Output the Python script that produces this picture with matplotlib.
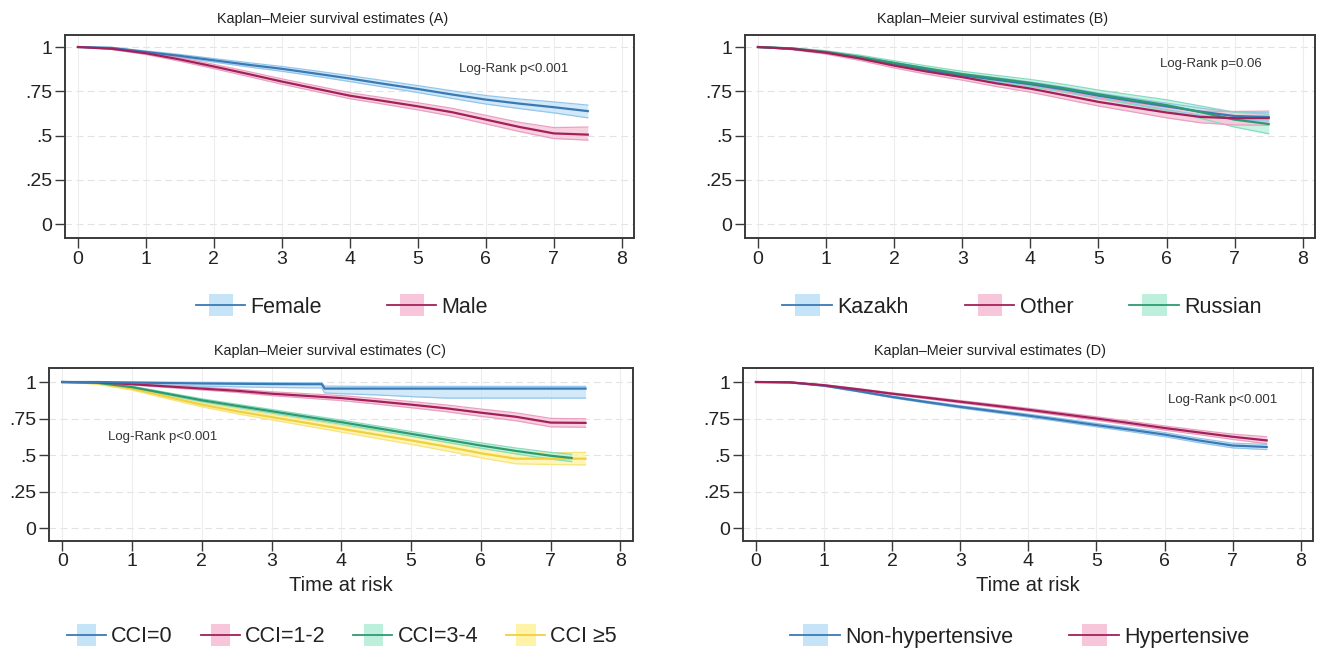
import matplotlib
matplotlib.use("Agg")
import matplotlib.pyplot as plt
from matplotlib.legend_handler import HandlerBase
from matplotlib.patches import Patch, Rectangle
from matplotlib.lines import Line2D

plt.rcParams['font.family'] = ['Liberation Sans', 'DejaVu Sans']

# ---------------- data ----------------
t = [0, 0.5, 1, 1.5, 2, 2.5, 3, 3.5, 4, 4.5, 5, 5.5, 6, 6.5, 7, 7.5]

# Panel A: sex
female    = [1.0, 0.995, 0.972, 0.950, 0.925, 0.900, 0.877, 0.850, 0.822, 0.792, 0.763, 0.732, 0.703, 0.680, 0.660, 0.638]
female_lo = [1.0, 0.992, 0.966, 0.942, 0.915, 0.888, 0.863, 0.835, 0.805, 0.774, 0.743, 0.710, 0.678, 0.652, 0.628, 0.600]
female_hi = [1.0, 0.998, 0.978, 0.958, 0.935, 0.912, 0.890, 0.865, 0.838, 0.810, 0.782, 0.753, 0.726, 0.706, 0.690, 0.672]
male      = [1.0, 0.990, 0.965, 0.930, 0.890, 0.848, 0.805, 0.765, 0.725, 0.695, 0.665, 0.632, 0.590, 0.548, 0.512, 0.505]
male_lo   = [1.0, 0.986, 0.958, 0.920, 0.878, 0.834, 0.790, 0.749, 0.708, 0.677, 0.645, 0.610, 0.566, 0.522, 0.483, 0.474]
male_hi   = [1.0, 0.994, 0.972, 0.940, 0.902, 0.862, 0.820, 0.781, 0.742, 0.713, 0.685, 0.654, 0.614, 0.574, 0.545, 0.548]

# Panel B: ethnicity
kazakh    = [1.0, 0.990, 0.970, 0.940, 0.905, 0.870, 0.840, 0.815, 0.790, 0.760, 0.725, 0.695, 0.665, 0.635, 0.610, 0.605]
kazakh_lo = [1.0, 0.987, 0.964, 0.932, 0.896, 0.860, 0.829, 0.803, 0.777, 0.746, 0.710, 0.679, 0.647, 0.615, 0.588, 0.582]
kazakh_hi = [1.0, 0.993, 0.976, 0.948, 0.914, 0.880, 0.851, 0.827, 0.803, 0.774, 0.740, 0.711, 0.683, 0.655, 0.632, 0.628]
other     = [1.0, 0.990, 0.968, 0.935, 0.895, 0.860, 0.830, 0.795, 0.765, 0.728, 0.690, 0.660, 0.630, 0.605, 0.598, 0.598]
other_lo  = [1.0, 0.985, 0.960, 0.924, 0.882, 0.845, 0.813, 0.777, 0.745, 0.706, 0.667, 0.634, 0.600, 0.572, 0.560, 0.558]
other_hi  = [1.0, 0.995, 0.976, 0.946, 0.908, 0.875, 0.847, 0.813, 0.785, 0.750, 0.713, 0.686, 0.660, 0.638, 0.636, 0.638]
russian   = [1.0, 0.992, 0.972, 0.944, 0.910, 0.878, 0.847, 0.822, 0.797, 0.767, 0.733, 0.702, 0.672, 0.632, 0.590, 0.565]
russian_lo= [1.0, 0.988, 0.965, 0.934, 0.898, 0.864, 0.831, 0.804, 0.777, 0.745, 0.709, 0.675, 0.642, 0.597, 0.548, 0.510]
russian_hi= [1.0, 0.996, 0.979, 0.954, 0.922, 0.892, 0.863, 0.840, 0.817, 0.789, 0.757, 0.729, 0.702, 0.667, 0.632, 0.620]

# Panel C: Charlson comorbidity index
t_cci0  = [0, 0.5, 1, 1.5, 2, 2.5, 3, 3.5, 3.72, 3.76, 4, 4.5, 5, 5.5, 6, 6.5, 7, 7.5]
cci0    = [1.0, 1.0, 0.996, 0.993, 0.990, 0.988, 0.986, 0.985, 0.985, 0.955, 0.955, 0.955, 0.955, 0.955, 0.955, 0.955, 0.955, 0.955]
cci0_lo = [1.0, 1.0, 0.986, 0.978, 0.972, 0.967, 0.963, 0.960, 0.960, 0.925, 0.920, 0.912, 0.900, 0.890, 0.890, 0.890, 0.890, 0.890]
cci0_hi = [1.0, 1.0, 1.0, 0.999, 0.998, 0.997, 0.996, 0.995, 0.995, 0.972, 0.971, 0.970, 0.970, 0.970, 0.970, 0.970, 0.970, 0.970]
cci12    = [1.0, 0.998, 0.985, 0.970, 0.955, 0.940, 0.920, 0.905, 0.890, 0.868, 0.845, 0.820, 0.790, 0.762, 0.722, 0.720]
cci12_lo = [1.0, 0.996, 0.980, 0.963, 0.946, 0.929, 0.907, 0.890, 0.873, 0.849, 0.824, 0.797, 0.765, 0.735, 0.693, 0.690]
cci12_hi = [1.0, 1.0, 0.990, 0.977, 0.964, 0.951, 0.933, 0.920, 0.907, 0.887, 0.866, 0.843, 0.815, 0.789, 0.751, 0.748]
t_cci34  = [0, 0.5, 1, 1.5, 2, 2.5, 3, 3.5, 4, 4.5, 5, 5.5, 6, 6.5, 7, 7.3]
cci34    = [1.0, 0.995, 0.965, 0.920, 0.875, 0.837, 0.800, 0.762, 0.725, 0.685, 0.645, 0.605, 0.565, 0.528, 0.495, 0.480]
cci34_lo = [1.0, 0.992, 0.959, 0.912, 0.865, 0.826, 0.788, 0.749, 0.711, 0.670, 0.629, 0.588, 0.547, 0.508, 0.472, 0.455]
cci34_hi = [1.0, 0.998, 0.971, 0.928, 0.885, 0.848, 0.812, 0.775, 0.739, 0.700, 0.661, 0.622, 0.583, 0.548, 0.518, 0.505]
cci5     = [1.0, 0.992, 0.955, 0.900, 0.845, 0.800, 0.760, 0.720, 0.680, 0.640, 0.600, 0.558, 0.512, 0.475, 0.475, 0.475]
cci5_lo  = [1.0, 0.985, 0.945, 0.887, 0.830, 0.783, 0.741, 0.699, 0.657, 0.615, 0.573, 0.529, 0.481, 0.440, 0.435, 0.432]
cci5_hi  = [1.0, 0.998, 0.965, 0.913, 0.860, 0.817, 0.779, 0.741, 0.703, 0.665, 0.627, 0.587, 0.543, 0.510, 0.515, 0.518]

# Panel D: hypertension
nonhyp    = [1.0, 0.997, 0.975, 0.938, 0.898, 0.863, 0.830, 0.800, 0.770, 0.738, 0.705, 0.673, 0.640, 0.600, 0.565, 0.555]
nonhyp_lo = [1.0, 0.995, 0.971, 0.933, 0.892, 0.856, 0.822, 0.791, 0.760, 0.727, 0.693, 0.660, 0.626, 0.585, 0.549, 0.537]
nonhyp_hi = [1.0, 0.999, 0.979, 0.943, 0.904, 0.870, 0.838, 0.809, 0.780, 0.749, 0.717, 0.686, 0.654, 0.615, 0.581, 0.573]
hyp       = [1.0, 0.998, 0.978, 0.950, 0.920, 0.893, 0.865, 0.838, 0.810, 0.780, 0.750, 0.718, 0.685, 0.655, 0.625, 0.600]
hyp_lo    = [1.0, 0.996, 0.974, 0.945, 0.914, 0.886, 0.857, 0.829, 0.800, 0.769, 0.738, 0.705, 0.671, 0.640, 0.607, 0.578]
hyp_hi    = [1.0, 1.0, 0.982, 0.955, 0.926, 0.900, 0.873, 0.847, 0.820, 0.791, 0.762, 0.731, 0.699, 0.670, 0.643, 0.625]

xticks = [0, 1, 2, 3, 4, 5, 6, 7, 8]
yticks = [0, 0.25, 0.5, 0.75, 1]
ytick_labels = ['0', '.25', '.5', '.75', '1']

# colours (line, band, band edge)
BLUE = ('#3b79b4', '#c6e4f7', '#93c6ea')
RED = ('#a3205a', '#f7c6da', '#eaa0c0')
GREEN = ('#2e9a70', '#bcf0dd', '#86dcbd')
YELLOW = ('#f0d040', '#fff3a8', '#f6e47c')


class BandLineHandler(HandlerBase):
    def create_artists(self, legend, orig_handle, xdescent, ydescent,
                       width, height, fontsize, trans):
        x0 = -xdescent
        y0 = -ydescent
        rect = Rectangle((x0 + width * 0.26, y0 - height * 0.2), width * 0.5, height * 1.4,
                         facecolor=orig_handle.get_facecolor(), edgecolor='none', transform=trans)
        line = Line2D([x0, x0 + width], [y0 + height / 2] * 2,
                      color=orig_handle.get_edgecolor(), lw=1.3, transform=trans)
        return [rect, line]


W, H = 1317, 652
fig = plt.figure(figsize=(W / 100, H / 100), dpi=100)


def make_ax(left, right, top, bottom):
    return fig.add_axes([left / W, 1 - bottom / H, (right - left) / W, (bottom - top) / H])


def style(ax, ylim):
    ax.set_xlim(-0.19, 8.18)
    ax.set_ylim(*ylim)
    ax.set_xticks(xticks)
    ax.set_yticks(yticks)
    ax.set_yticklabels(ytick_labels)
    for s in ax.spines.values():
        s.set_color('#3a3a3a')
        s.set_linewidth(1.4)
    ax.tick_params(direction='out', length=7, width=1, color='#3a3a3a',
                   labelsize=14, labelcolor='#222222', pad=2)
    for y in yticks:
        ax.axhline(y, color='#e2e2e2', lw=0.8, ls=(0, (6, 4)), zorder=0)
    for x in xticks:
        ax.axvline(x, color='#ededed', lw=0.8, zorder=0)


def title(xc, yc, text):
    fig.text(xc / W, 1 - yc / H, text, fontsize=10.4, color='#222222', ha='center', va='center')


def km(ax, tt, s, lo, hi, col):
    line, band, edge = col
    ax.fill_between(tt, lo, hi, color=band, alpha=0.8, lw=0, zorder=1)
    ax.plot(tt, lo, color=edge, lw=0.9, zorder=2)
    ax.plot(tt, hi, color=edge, lw=0.9, zorder=2)
    ax.plot(tt, s, color=line, lw=1.6, zorder=3)


def legend(labels, cols, xc, yc, colspacing, hl):
    handles = [Patch(facecolor=c[1], edgecolor=c[0]) for c in cols]
    fig.legend(handles, labels, loc='center', bbox_to_anchor=(xc / W, 1 - yc / H), ncol=len(labels),
               frameon=False, fontsize=15.5, handlelength=hl, handletextpad=0.25,
               columnspacing=colspacing, handler_map={Patch: BandLineHandler()},
               labelcolor='#222222', borderpad=0, borderaxespad=0)


# ---- Panel A
axA = make_ax(65, 634, 35, 238)
style(axA, (-0.079, 1.068))
title(333, 19, 'Kaplan\u2013Meier survival estimates (A)')
km(axA, t, female, female_lo, female_hi, BLUE)
km(axA, t, male, male_lo, male_hi, RED)
axA.text(5.6, 0.875, 'Log-Rank p<0.001', fontsize=9.5, color='#333333', va='center')
legend(['Female', 'Male'], [BLUE, RED], 342, 307, 3.0, 2.3)

# ---- Panel B
axB = make_ax(745, 1315, 35, 238)
style(axB, (-0.079, 1.068))
title(993, 19, 'Kaplan\u2013Meier survival estimates (B)')
km(axB, t, kazakh, kazakh_lo, kazakh_hi, BLUE)
km(axB, t, russian, russian_lo, russian_hi, GREEN)
km(axB, t, other, other_lo, other_hi, RED)
axB.text(5.9, 0.904, 'Log-Rank p=0.06', fontsize=9.5, color='#333333', va='center')
legend(['Kazakh', 'Other', 'Russian'], [BLUE, RED, GREEN], 1022, 307, 2.6, 2.3)

# ---- Panel C
axC = make_ax(49, 633, 368, 541)
style(axC, (-0.089, 1.096))
title(330, 351, 'Kaplan\u2013Meier survival estimates (C)')
km(axC, t, cci5, cci5_lo, cci5_hi, YELLOW)
km(axC, t_cci34, cci34, cci34_lo, cci34_hi, GREEN)
km(axC, t, cci12, cci12_lo, cci12_hi, RED)
km(axC, t_cci0, cci0, cci0_lo, cci0_hi, BLUE)
axC.text(0.66, 0.624, 'Log-Rank p<0.001', fontsize=9.5, color='#333333', va='center')
axC.set_xlabel('Time at risk', fontsize=14.5, color='#222222', labelpad=4)
legend(['CCI=0', 'CCI=1-2', 'CCI=3-4', 'CCI \u22655'], [BLUE, RED, GREEN, YELLOW], 342, 637, 1.3, 1.8)

# ---- Panel D
axD = make_ax(743, 1313, 368, 541)
style(axD, (-0.089, 1.096))
title(990, 351, 'Kaplan\u2013Meier survival estimates (D)')
km(axD, t, nonhyp, nonhyp_lo, nonhyp_hi, BLUE)
km(axD, t, hyp, hyp_lo, hyp_hi, RED)
axD.text(6.05, 0.88, 'Log-Rank p<0.001', fontsize=9.5, color='#333333', va='center')
axD.set_xlabel('Time at risk', fontsize=14.5, color='#222222', labelpad=4)
legend(['Non-hypertensive', 'Hypertensive'], [BLUE, RED], 1020, 637, 2.6, 2.3)

fig.savefig('out.png', dpi=100, facecolor='white')
